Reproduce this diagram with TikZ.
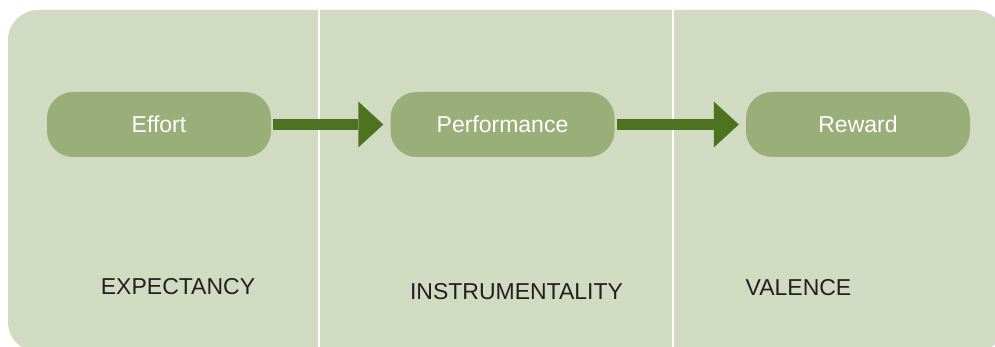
\documentclass[tikz,border=0pt]{standalone}
\usepackage{fontspec}
\setmainfont{Liberation Sans}
\usetikzlibrary{arrows.meta}
\definecolor{bgc}{HTML}{D1DBC1}
\definecolor{nodec}{HTML}{9AAE79}
\definecolor{arrc}{HTML}{4E7320}
\definecolor{txtc}{HTML}{231F20}
\tikzset{
  stage/.style={fill=nodec, rounded corners=26pt, minimum width=224pt, minimum height=65pt, inner sep=0pt, text=white, font=\fontsize{23}{27}\selectfont},
  lbl/.style={text=txtc, inner sep=0pt, font=\fontsize{23}{27}\selectfont},
  flow/.style={draw=arrc, line width=11pt, -{Triangle[length=25pt,width=46pt,line width=0pt]}, fill=arrc, shorten >=7pt, shorten <=2pt},
  divider/.style={draw=white, line width=2pt}
}
\begin{document}
\begin{tikzpicture}[x=1pt,y=-1pt]
\useasboundingbox (0,0) rectangle (995,347);
\clip (0,0) rectangle (995,347);
\fill[bgc, rounded corners=30pt] (8,10) rectangle (1005,352);
\coordinate (d1t) at (319,10);
\coordinate (d1b) at (319,352);
\coordinate (d2t) at (673,10);
\coordinate (d2b) at (673,352);
\draw[divider] (d1t) -- (d1b);
\draw[divider] (d2t) -- (d2b);
\node[stage] (e) at (159,124.5) {Effort};
\node[stage] (p) at (502.5,124.5) {Performance};
\node[stage] (r) at (858,124.5) {Reward};
\draw[flow] (e) -- (p);
\draw[flow] (p) -- (r);
\node[lbl] (x) at (178,286.5) {EXPECTANCY};
\node[lbl] (i) at (516.5,291.5) {INSTRUMENTALITY};
\node[lbl] (v) at (798.5,288) {VALENCE};
\end{tikzpicture}
\end{document}
